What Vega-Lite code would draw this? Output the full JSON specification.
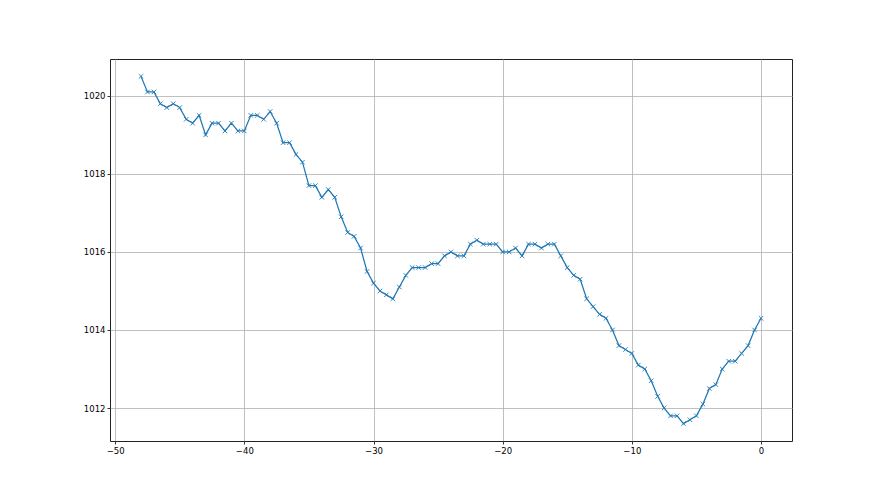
{
  "$schema": "https://vega.github.io/schema/vega-lite/v6.json",
  "width": 682,
  "height": 382,
  "autosize": {"type": "none"},
  "padding": {"left": 110, "top": 59, "right": 88, "bottom": 54},
  "background": "white",
  "config": {
    "view": {"stroke": "#222222", "strokeWidth": 1},
    "axis": {
      "labelFont": "DejaVu Sans",
      "labelFontSize": 8.5,
      "labelColor": "#000000",
      "tickColor": "#000000",
      "tickSize": 3,
      "tickWidth": 0.8,
      "labelPadding": 2,
      "domain": false,
      "grid": true,
      "gridColor": "#b0b0b0",
      "gridWidth": 0.8,
      "title": null
    }
  },
  "data": {
    "values": [
      {"t": -48, "p": 1020.5}, {"t": -47.5, "p": 1020.1}, {"t": -47, "p": 1020.1}, {"t": -46.5, "p": 1019.8},
      {"t": -46, "p": 1019.7}, {"t": -45.5, "p": 1019.8}, {"t": -45, "p": 1019.7}, {"t": -44.5, "p": 1019.4},
      {"t": -44, "p": 1019.3}, {"t": -43.5, "p": 1019.5}, {"t": -43, "p": 1019.0}, {"t": -42.5, "p": 1019.3},
      {"t": -42, "p": 1019.3}, {"t": -41.5, "p": 1019.1}, {"t": -41, "p": 1019.3}, {"t": -40.5, "p": 1019.1},
      {"t": -40, "p": 1019.1}, {"t": -39.5, "p": 1019.5}, {"t": -39, "p": 1019.5}, {"t": -38.5, "p": 1019.4},
      {"t": -38, "p": 1019.6}, {"t": -37.5, "p": 1019.3}, {"t": -37, "p": 1018.8}, {"t": -36.5, "p": 1018.8},
      {"t": -36, "p": 1018.5}, {"t": -35.5, "p": 1018.3}, {"t": -35, "p": 1017.7}, {"t": -34.5, "p": 1017.7},
      {"t": -34, "p": 1017.4}, {"t": -33.5, "p": 1017.6}, {"t": -33, "p": 1017.4}, {"t": -32.5, "p": 1016.9},
      {"t": -32, "p": 1016.5}, {"t": -31.5, "p": 1016.4}, {"t": -31, "p": 1016.1}, {"t": -30.5, "p": 1015.5},
      {"t": -30, "p": 1015.2}, {"t": -29.5, "p": 1015.0}, {"t": -29, "p": 1014.9}, {"t": -28.5, "p": 1014.8},
      {"t": -28, "p": 1015.1}, {"t": -27.5, "p": 1015.4}, {"t": -27, "p": 1015.6}, {"t": -26.5, "p": 1015.6},
      {"t": -26, "p": 1015.6}, {"t": -25.5, "p": 1015.7}, {"t": -25, "p": 1015.7}, {"t": -24.5, "p": 1015.9},
      {"t": -24, "p": 1016.0}, {"t": -23.5, "p": 1015.9}, {"t": -23, "p": 1015.9}, {"t": -22.5, "p": 1016.2},
      {"t": -22, "p": 1016.3}, {"t": -21.5, "p": 1016.2}, {"t": -21, "p": 1016.2}, {"t": -20.5, "p": 1016.2},
      {"t": -20, "p": 1016.0}, {"t": -19.5, "p": 1016.0}, {"t": -19, "p": 1016.1}, {"t": -18.5, "p": 1015.9},
      {"t": -18, "p": 1016.2}, {"t": -17.5, "p": 1016.2}, {"t": -17, "p": 1016.1}, {"t": -16.5, "p": 1016.2},
      {"t": -16, "p": 1016.2}, {"t": -15.5, "p": 1015.9}, {"t": -15, "p": 1015.6}, {"t": -14.5, "p": 1015.4},
      {"t": -14, "p": 1015.3}, {"t": -13.5, "p": 1014.8}, {"t": -13, "p": 1014.6}, {"t": -12.5, "p": 1014.4},
      {"t": -12, "p": 1014.3}, {"t": -11.5, "p": 1014.0}, {"t": -11, "p": 1013.6}, {"t": -10.5, "p": 1013.5},
      {"t": -10, "p": 1013.4}, {"t": -9.5, "p": 1013.1}, {"t": -9, "p": 1013.0}, {"t": -8.5, "p": 1012.7},
      {"t": -8, "p": 1012.3}, {"t": -7.5, "p": 1012.0}, {"t": -7, "p": 1011.8}, {"t": -6.5, "p": 1011.8},
      {"t": -6, "p": 1011.6}, {"t": -5.5, "p": 1011.7}, {"t": -5, "p": 1011.8}, {"t": -4.5, "p": 1012.1},
      {"t": -4, "p": 1012.5}, {"t": -3.5, "p": 1012.6}, {"t": -3, "p": 1013.0}, {"t": -2.5, "p": 1013.2},
      {"t": -2, "p": 1013.2}, {"t": -1.5, "p": 1013.4}, {"t": -1, "p": 1013.6}, {"t": -0.5, "p": 1014.0},
      {"t": 0, "p": 1014.3}
    ]
  },
  "encoding": {
    "x": {
      "field": "t", "type": "quantitative",
      "scale": {"domain": [-50.4, 2.4], "nice": false, "zero": false},
      "axis": {"values": [-50, -40, -30, -20, -10, 0], "format": "d"}
    },
    "y": {
      "field": "p", "type": "quantitative",
      "scale": {"domain": [1011.155, 1020.945], "nice": false, "zero": false},
      "axis": {"values": [1012, 1014, 1016, 1018, 1020], "format": "d"}
    }
  },
  "layer": [
    {"mark": {"type": "line", "color": "#1f77b4", "strokeWidth": 1.25, "clip": true}},
    {"mark": {"type": "point", "shape": "M-1,-1L1,1M-1,1L1,-1", "filled": false, "stroke": "#1f77b4", "strokeWidth": 0.9, "size": 20, "opacity": 1, "clip": true}}
  ]
}
